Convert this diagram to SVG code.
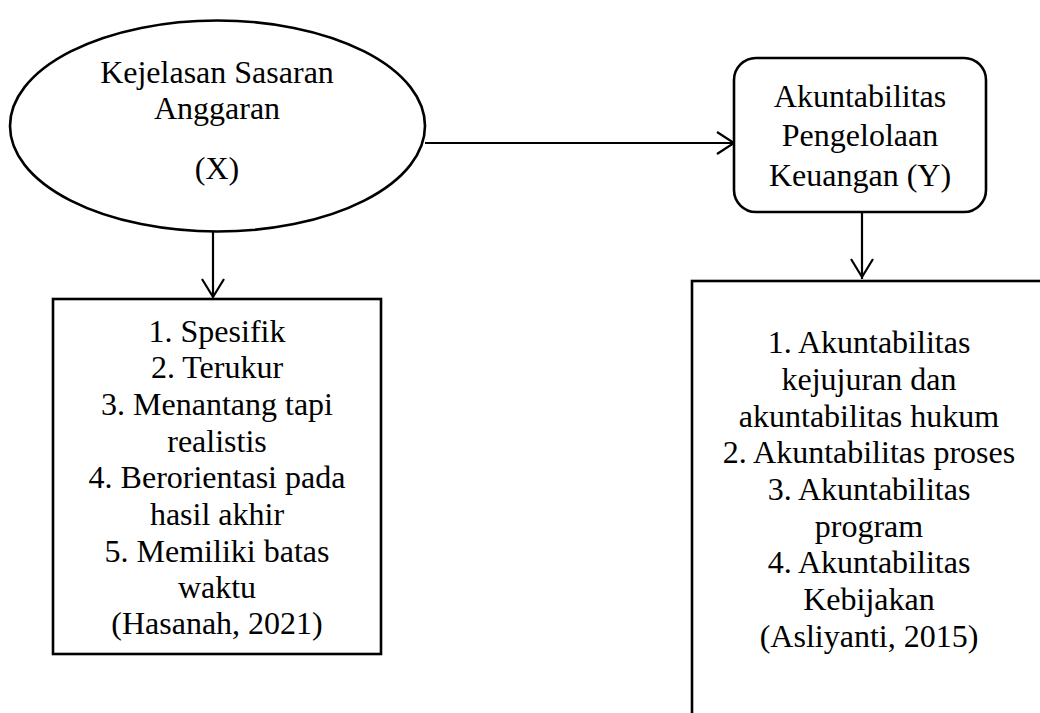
<svg xmlns="http://www.w3.org/2000/svg" width="1040" height="713" viewBox="0 0 1040 713">
<style>
  .shape { fill: #ffffff; stroke: #000000; stroke-width: 2.6; }
  .conn { fill: none; stroke: #000000; stroke-width: 2.2; }
  .head { fill: none; stroke: #000000; stroke-width: 2.2; stroke-linejoin: miter; }
  text { font-family: "Liberation Serif", "Times New Roman", serif; font-size: 32px; fill: #000000; text-anchor: middle; }
</style>
<rect x="0" y="0" width="1040" height="713" fill="#ffffff"/>
<g id="connectors">
  <line class="conn" x1="425" y1="143" x2="733" y2="143"/>
  <polyline class="head" points="717,132 734,143 717,154"/>
  <line class="conn" x1="213" y1="231" x2="213" y2="297"/>
  <polyline class="head" points="202,279 213,297 224,279"/>
  <line class="conn" x1="862" y1="212" x2="862" y2="279"/>
  <polyline class="head" points="851,259 862,277 873,259"/>
</g>
<g id="node-x">
  <ellipse class="shape" cx="217.5" cy="126" rx="207.5" ry="105.5"/>
  <text x="217" y="83">Kejelasan Sasaran</text>
  <text x="217" y="119">Anggaran</text>
  <text x="217" y="179">(X)</text>
</g>
<g id="node-y">
  <rect class="shape" x="734" y="58" width="252" height="154" rx="22" ry="22"/>
  <text x="860" y="107">Akuntabilitas</text>
  <text x="860" y="146">Pengelolaan</text>
  <text x="860" y="186">Keuangan (Y)</text>
</g>
<g id="node-x-indicators">
  <rect class="shape" x="53" y="299" width="328" height="355"/>
  <text x="217" y="342">1. Spesifik</text>
  <text x="217" y="378">2. Terukur</text>
  <text x="217" y="415">3. Menantang tapi</text>
  <text x="217" y="452">realistis</text>
  <text x="217" y="488">4. Berorientasi pada</text>
  <text x="217" y="525">hasil akhir</text>
  <text x="217" y="562">5. Memiliki batas</text>
  <text x="217" y="598">waktu</text>
  <text x="217" y="634">(Hasanah, 2021)</text>
</g>
<g id="node-y-indicators">
  <rect class="shape" x="692" y="281" width="400" height="500"/>
  <text x="869" y="353">1. Akuntabilitas</text>
  <text x="869" y="390">kejujuran dan</text>
  <text x="869" y="427">akuntabilitas hukum</text>
  <text x="869" y="463">2. Akuntabilitas proses</text>
  <text x="869" y="500">3. Akuntabilitas</text>
  <text x="869" y="537">program</text>
  <text x="869" y="573">4. Akuntabilitas</text>
  <text x="869" y="610">Kebijakan</text>
  <text x="869" y="647">(Asliyanti, 2015)</text>
</g>
</svg>
